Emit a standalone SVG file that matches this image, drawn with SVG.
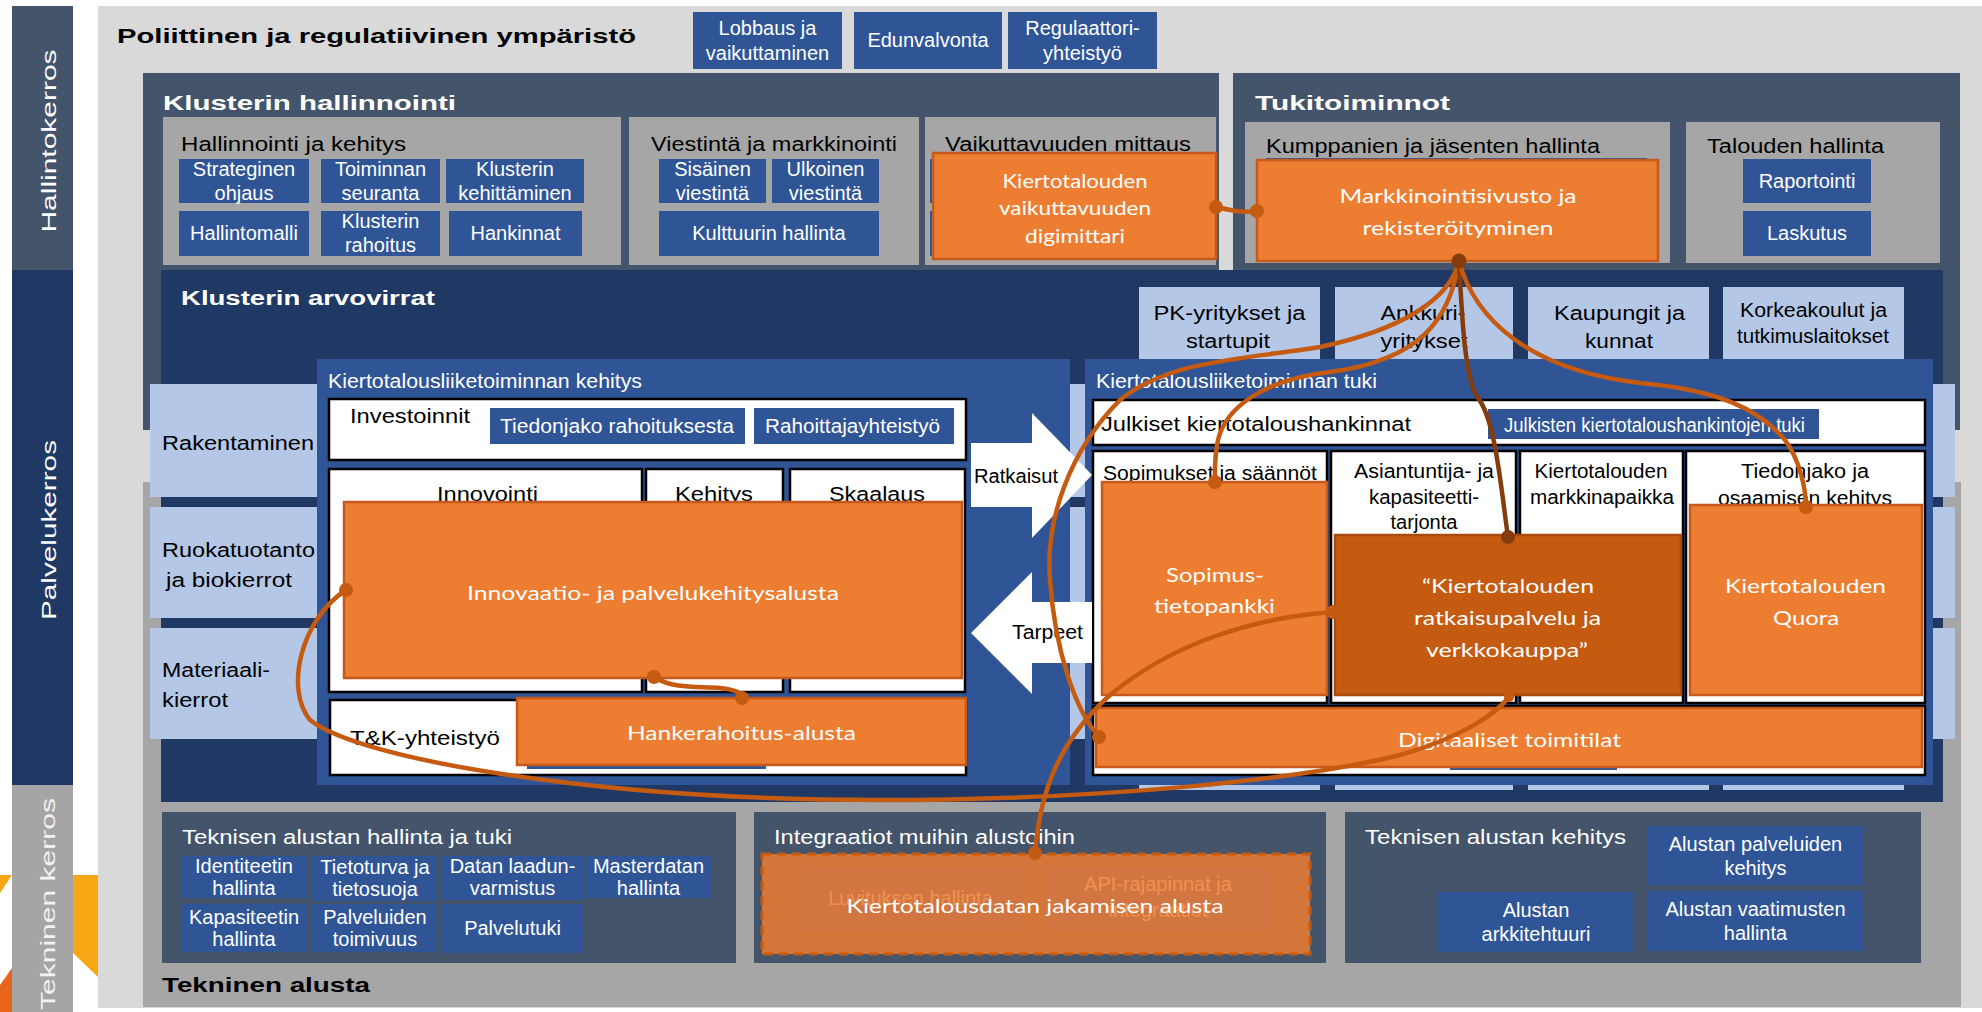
<svg xmlns="http://www.w3.org/2000/svg" width="1982" height="1012" viewBox="0 0 1982 1012">
<style>
text{font-family:"Liberation Sans",Arial,sans-serif;font-size:20px;fill:#000}
.w{fill:#fff}
.m{text-anchor:middle}
.b{font-weight:bold}
.o{font-family:Lato,"Liberation Sans",sans-serif;fill:#fff}
.bb{fill:#2F5597}
.lb{fill:#B4C7E7}
.gp{fill:#A6A6A6}
.sl{fill:#44546A}
.or{fill:#ED7D31;stroke:#C65A1E;stroke-width:2.5}
.od{fill:#C55A11;stroke:#A84B0C;stroke-width:2.5}
.wb{fill:#fff;stroke:#000;stroke-width:2.5}
.cn{fill:none;stroke:#C55A11;stroke-width:4.5;stroke-linecap:round}
.cd{fill:none;stroke:#843C0C;stroke-width:4.5;stroke-linecap:round}
.dt{fill:#C55A11}
.dd{fill:#843C0C}
</style>
<rect x="0" y="0" width="1982" height="1012" fill="#fff"/>

<g id="sidebars">
<polygon points="73,875 98,875 98,977 73,953" fill="#F5A714"/>
<polygon points="0,875 12,875 0,893" fill="#F5A714"/>
<polygon points="0,985 12,968 12,1012 0,1012" fill="#E8661C"/>
<rect x="12" y="6" width="61" height="264" fill="#44546A"/>
<rect x="12" y="270" width="61" height="515" fill="#203864"/>
<rect x="12" y="785" width="61" height="227" fill="#A5A5A5"/>
<text class="w m" font-size="25" transform="translate(56,141) rotate(-90)" textLength="183" lengthAdjust="spacingAndGlyphs">Hallintokerros</text>
<text class="w m" font-size="25" transform="translate(56,530) rotate(-90)" textLength="180" lengthAdjust="spacingAndGlyphs">Palvelukerros</text>
<text class="m" font-size="25" style="fill:#F2F2F2" transform="translate(55,904) rotate(-90)" textLength="212" lengthAdjust="spacingAndGlyphs">Tekninen kerros</text>
</g>

<g id="background">
<rect x="98" y="6" width="1884" height="1002" fill="#D9D9D9"/>
<rect x="143" y="482" width="1818" height="525" class="gp"/>
<rect x="143" y="73" width="1076" height="357" class="sl"/>
<rect x="1233" y="73" width="727" height="357" class="sl"/>
<rect x="161" y="270" width="1782" height="532" fill="#203864"/>
</g>

<g id="poliittinen">
<text class="b" x="117" y="43" font-size="29" textLength="519" lengthAdjust="spacingAndGlyphs">Poliittinen ja regulatiivinen ympäristö</text>
<g id="lobbaus"><rect x="693" y="12" width="149" height="57" class="bb"/><text class="w m" x="767.5" y="35">Lobbaus ja</text><text class="w m" x="767.5" y="60">vaikuttaminen</text></g>
<g id="edunvalvonta"><rect x="854" y="12" width="148" height="57" class="bb"/><text class="w m" x="928" y="47">Edunvalvonta</text></g>
<g id="regulaattori"><rect x="1008" y="12" width="149" height="57" class="bb"/><text class="w m" x="1082.5" y="35">Regulaattori-</text><text class="w m" x="1082.5" y="60">yhteistyö</text></g>
</g>

<g id="klusterin-hallinnointi">
<text class="w b" x="163" y="110" font-size="31" textLength="293" lengthAdjust="spacingAndGlyphs">Klusterin hallinnointi</text>
<g id="hallinnointi-ja-kehitys">
<rect x="163" y="117" width="458" height="148" class="gp"/>
<text x="181" y="151" font-size="23" textLength="225" lengthAdjust="spacingAndGlyphs">Hallinnointi ja kehitys</text>
<rect x="179" y="159" width="130" height="44" class="bb"/><text class="w m" x="244" y="176">Strateginen</text><text class="w m" x="244" y="200">ohjaus</text>
<rect x="321" y="159" width="119" height="44" class="bb"/><text class="w m" x="380.5" y="176">Toiminnan</text><text class="w m" x="380.5" y="200">seuranta</text>
<rect x="446" y="159" width="138" height="44" class="bb"/><text class="w m" x="515" y="176">Klusterin</text><text class="w m" x="515" y="200">kehittäminen</text>
<rect x="179" y="211" width="130" height="45" class="bb"/><text class="w m" x="244" y="240">Hallintomalli</text>
<rect x="321" y="211" width="119" height="45" class="bb"/><text class="w m" x="380.5" y="228">Klusterin</text><text class="w m" x="380.5" y="252">rahoitus</text>
<rect x="449" y="211" width="133" height="45" class="bb"/><text class="w m" x="515.5" y="240">Hankinnat</text>
</g>
<g id="viestinta">
<rect x="629" y="117" width="290" height="148" class="gp"/>
<text x="651" y="151" font-size="23" textLength="246" lengthAdjust="spacingAndGlyphs">Viestintä ja markkinointi</text>
<rect x="659" y="159" width="107" height="44" class="bb"/><text class="w m" x="712.5" y="176">Sisäinen</text><text class="w m" x="712.5" y="200">viestintä</text>
<rect x="772" y="159" width="107" height="44" class="bb"/><text class="w m" x="825.5" y="176">Ulkoinen</text><text class="w m" x="825.5" y="200">viestintä</text>
<rect x="659" y="211" width="220" height="45" class="bb"/><text class="w m" x="769" y="240">Kulttuurin  hallinta</text>
</g>
<g id="vaikuttavuuden-mittaus">
<rect x="925" y="117" width="291" height="148" class="gp"/>
<text x="945" y="151" font-size="23" textLength="246" lengthAdjust="spacingAndGlyphs">Vaikuttavuuden mittaus</text>
<rect x="930" y="159" width="130" height="44" class="bb"/>
<rect x="930" y="211" width="130" height="45" class="bb"/>
</g>
</g>

<g id="tukitoiminnot">
<text class="w b" x="1255" y="110" font-size="31" textLength="195" lengthAdjust="spacingAndGlyphs">Tukitoiminnot</text>
<g id="kumppanien-hallinta">
<rect x="1245" y="122" width="425" height="141" class="gp"/>
<text x="1266" y="153" font-size="23" textLength="334" lengthAdjust="spacingAndGlyphs">Kumppanien ja jäsenten hallinta</text>
<rect x="1266" y="158" width="203" height="44" class="bb"/>
<rect x="1474" y="158" width="173" height="44" class="bb"/>
</g>
<g id="talouden-hallinta">
<rect x="1686" y="122" width="254" height="141" class="gp"/>
<text x="1707" y="153" font-size="23" textLength="177" lengthAdjust="spacingAndGlyphs">Talouden hallinta</text>
<rect x="1743" y="159" width="128" height="44" class="bb"/><text class="w m" x="1807" y="188">Raportointi</text>
<rect x="1743" y="211" width="128" height="45" class="bb"/><text class="w m" x="1807" y="240">Laskutus</text>
</g>
</g>

<g id="klusterin-arvovirrat">
<text class="w b" x="181" y="305" font-size="27" textLength="254" lengthAdjust="spacingAndGlyphs">Klusterin  arvovirrat</text>
<g id="toimijat">
<rect x="1139" y="287" width="181" height="503" class="lb"/>
<rect x="1335" y="287" width="178" height="503" class="lb"/>
<rect x="1528" y="287" width="181" height="503" class="lb"/>
<rect x="1723" y="287" width="181" height="503" class="lb"/>
<text class="m" x="1229.5" y="320" font-size="24" textLength="152" lengthAdjust="spacingAndGlyphs">PK-yritykset ja</text>
<text class="m" x="1228" y="348" font-size="24" textLength="84" lengthAdjust="spacingAndGlyphs">startupit</text>
<text class="m" x="1423" y="320" font-size="24" textLength="85" lengthAdjust="spacingAndGlyphs">Ankkuri-</text>
<text class="m" x="1424" y="348" font-size="24" textLength="87" lengthAdjust="spacingAndGlyphs">yritykset</text>
<text class="m" x="1619.5" y="320" font-size="24" textLength="131" lengthAdjust="spacingAndGlyphs">Kaupungit ja</text>
<text class="m" x="1619" y="348" font-size="24" textLength="68" lengthAdjust="spacingAndGlyphs">kunnat</text>
<text class="m" x="1813.5" y="317" font-size="22" textLength="147" lengthAdjust="spacingAndGlyphs">Korkeakoulut  ja</text>
<text class="m" x="1813" y="343" font-size="22" textLength="152" lengthAdjust="spacingAndGlyphs">tutkimuslaitokset</text>
</g>
<g id="toimialat">
<rect x="150" y="384" width="1805" height="113" class="lb"/>
<rect x="150" y="507" width="1805" height="111" class="lb"/>
<rect x="150" y="628" width="1805" height="111" class="lb"/>
<text x="162" y="450" font-size="24" textLength="152" lengthAdjust="spacingAndGlyphs">Rakentaminen</text>
<text x="162" y="557" font-size="24" textLength="153" lengthAdjust="spacingAndGlyphs">Ruokatuotanto</text>
<text x="166" y="587" font-size="24" textLength="126" lengthAdjust="spacingAndGlyphs">ja biokierrot</text>
<text x="162" y="677" font-size="24" textLength="108" lengthAdjust="spacingAndGlyphs">Materiaali-</text>
<text x="162" y="707" font-size="24" textLength="66" lengthAdjust="spacingAndGlyphs">kierrot</text>
</g>
</g>

<g id="liiketoiminnan-kehitys">
<rect x="317" y="359" width="753" height="426" class="bb"/>
<text class="w" x="328" y="388" font-size="21" textLength="314" lengthAdjust="spacingAndGlyphs">Kiertotalousliiketoiminnan  kehitys</text>
<g id="investoinnit">
<rect x="329" y="399" width="637" height="61" class="wb"/>
<text x="350" y="423" font-size="24" textLength="120" lengthAdjust="spacingAndGlyphs">Investoinnit</text>
<rect x="490" y="408" width="255" height="36" class="bb"/><text class="w" x="500" y="433" font-size="21" textLength="234" lengthAdjust="spacingAndGlyphs">Tiedonjako  rahoituksesta</text>
<rect x="754" y="408" width="200" height="36" class="bb"/><text class="w" x="765" y="433" font-size="21" textLength="175" lengthAdjust="spacingAndGlyphs">Rahoittajayhteistyö</text>
</g>
<g id="innovointi"><rect x="329" y="469" width="313" height="223" class="wb"/><text x="437" y="501" font-size="24" textLength="101" lengthAdjust="spacingAndGlyphs">Innovointi</text></g>
<g id="kehitys"><rect x="646" y="469" width="137" height="223" class="wb"/><text x="675" y="501" font-size="24" textLength="78" lengthAdjust="spacingAndGlyphs">Kehitys</text></g>
<g id="skaalaus"><rect x="790" y="469" width="175" height="223" class="wb"/><text x="829" y="501" font-size="24" textLength="96" lengthAdjust="spacingAndGlyphs">Skaalaus</text></g>
<g id="tk-yhteistyo"><rect x="330" y="700" width="636" height="75" class="wb"/><text x="350" y="745" font-size="22" textLength="150" lengthAdjust="spacingAndGlyphs">T&amp;K-yhteistyö</text>
<rect x="527" y="740" width="239" height="29" class="bb"/></g>
<g id="innovaatioalusta"><rect x="344" y="502" width="618" height="176" class="or"/><text class="o m" x="653" y="600" font-size="27" textLength="372" lengthAdjust="spacingAndGlyphs">Innovaatio- ja palvelukehitysalusta</text></g>
<g id="hankerahoitus"><rect x="517" y="698" width="449" height="67" class="or"/><text class="o m" x="741.5" y="740" font-size="26" textLength="229" lengthAdjust="spacingAndGlyphs">Hankerahoitus-alusta</text></g>
</g>

<g id="liiketoiminnan-tuki">
<rect x="1085" y="359" width="848" height="426" class="bb"/>
<text class="w" x="1096" y="388" font-size="21" textLength="281" lengthAdjust="spacingAndGlyphs">Kiertotalousliiketoiminnan  tuki</text>
<g id="julkiset-hankinnat">
<rect x="1093" y="400" width="832" height="45" class="wb"/>
<text x="1101" y="431" font-size="24" textLength="310" lengthAdjust="spacingAndGlyphs">Julkiset kiertotaloushankinnat</text>
<rect x="1488" y="409" width="331" height="30" class="bb"/>
<text class="w" x="1504" y="432" font-size="20" textLength="301" lengthAdjust="spacingAndGlyphs">Julkisten kiertotaloushankintojen tuki</text>
</g>
<g id="sopimukset"><rect x="1093" y="451" width="234" height="252" class="wb"/><text x="1103" y="480" font-size="22" textLength="214" lengthAdjust="spacingAndGlyphs">Sopimukset  ja  säännöt</text></g>
<g id="asiantuntija"><rect x="1331" y="451" width="185" height="252" class="wb"/>
<text class="m" x="1424" y="478" font-size="22" textLength="140" lengthAdjust="spacingAndGlyphs">Asiantuntija-  ja</text>
<text class="m" x="1424" y="504" font-size="22" textLength="110" lengthAdjust="spacingAndGlyphs">kapasiteetti-</text>
<text class="m" x="1424" y="529" font-size="22" textLength="67" lengthAdjust="spacingAndGlyphs">tarjonta</text></g>
<g id="markkinapaikka"><rect x="1520" y="451" width="163" height="252" class="wb"/>
<text class="m" x="1601" y="478" font-size="22" textLength="133" lengthAdjust="spacingAndGlyphs">Kiertotalouden</text>
<text class="m" x="1602" y="504" font-size="22" textLength="144" lengthAdjust="spacingAndGlyphs">markkinapaikka</text></g>
<g id="tiedonjako"><rect x="1686" y="451" width="239" height="252" class="wb"/>
<text class="m" x="1805" y="478" font-size="22" textLength="128" lengthAdjust="spacingAndGlyphs">Tiedonjako  ja</text>
<text class="m" x="1805" y="505" font-size="22" textLength="174" lengthAdjust="spacingAndGlyphs">osaamisen  kehitys</text></g>
<g id="digitaaliset"><rect x="1093" y="706" width="832" height="69" class="wb"/>
<rect x="1450" y="740" width="167" height="30" class="bb"/>
<rect x="1096" y="708" width="826" height="59" class="or"/>
<text class="o m" x="1509.5" y="747" font-size="26" textLength="223" lengthAdjust="spacingAndGlyphs">Digitaaliset toimitilat</text></g>
<g id="sopimustietopankki"><rect x="1102" y="482" width="225" height="213" class="or"/>
<text class="o m" x="1215" y="582" font-size="25" textLength="98" lengthAdjust="spacingAndGlyphs">Sopimus-</text>
<text class="o m" x="1214.5" y="613" font-size="25" textLength="121" lengthAdjust="spacingAndGlyphs">tietopankki</text></g>
<g id="ratkaisupalvelu"><rect x="1335" y="535" width="346" height="160" class="od"/>
<text class="o m" x="1508" y="593" font-size="25" textLength="172" lengthAdjust="spacingAndGlyphs">“Kiertotalouden</text>
<text class="o m" x="1507.5" y="625" font-size="25" textLength="187" lengthAdjust="spacingAndGlyphs">ratkaisupalvelu ja</text>
<text class="o m" x="1507" y="657" font-size="25" textLength="162" lengthAdjust="spacingAndGlyphs">verkkokauppa”</text></g>
<g id="quora"><rect x="1690" y="505" width="232" height="190" class="or"/>
<text class="o m" x="1805.5" y="593" font-size="25" textLength="161" lengthAdjust="spacingAndGlyphs">Kiertotalouden</text>
<text class="o m" x="1806" y="625" font-size="25" textLength="66" lengthAdjust="spacingAndGlyphs">Quora</text></g>
</g>

<g id="ratkaisut-arrow">
<polygon points="971,443 1032,443 1032,413 1092,475 1032,538 1032,507 971,507" fill="#fff"/>
<text x="974" y="483" font-size="21" textLength="84" lengthAdjust="spacingAndGlyphs">Ratkaisut</text>
</g>
<g id="tarpeet-arrow">
<polygon points="971,633 1032,572 1032,602 1092,602 1092,663 1032,663 1032,694" fill="#fff"/>
<text x="1012" y="639" font-size="21" textLength="71" lengthAdjust="spacingAndGlyphs">Tarpeet</text>
</g>

<g id="digimittari"><rect x="933" y="153" width="283" height="106" class="or"/>
<text class="o m" x="1075" y="188" font-size="23" textLength="145" lengthAdjust="spacingAndGlyphs">Kiertotalouden</text>
<text class="o m" x="1075" y="215" font-size="23" textLength="152" lengthAdjust="spacingAndGlyphs">vaikuttavuuden</text>
<text class="o m" x="1075" y="243" font-size="23" textLength="100" lengthAdjust="spacingAndGlyphs">digimittari</text></g>
<g id="markkinointisivusto"><rect x="1257" y="160" width="401" height="101" class="or"/>
<text class="o m" x="1458" y="203" font-size="25" textLength="237" lengthAdjust="spacingAndGlyphs">Markkinointisivusto ja</text>
<text class="o m" x="1458" y="235" font-size="25" textLength="191" lengthAdjust="spacingAndGlyphs">rekisteröityminen</text></g>

<g id="tekninen-alusta">
<text class="b" x="162" y="992" font-size="27" textLength="208" lengthAdjust="spacingAndGlyphs">Tekninen alusta</text>
<g id="hallinta-ja-tuki">
<rect x="162" y="812" width="574" height="151" class="sl"/>
<text class="w" x="182" y="844" font-size="23" textLength="330" lengthAdjust="spacingAndGlyphs">Teknisen alustan  hallinta ja tuki</text>
<rect x="181" y="856" width="126" height="42" class="bb"/><text class="w m" x="244" y="872.5" font-size="18">Identiteetin</text><text class="w m" x="244" y="894.5" font-size="18">hallinta</text>
<rect x="312" y="856" width="126" height="45" class="bb"/><text class="w m" x="375" y="874" font-size="18">Tietoturva ja</text><text class="w m" x="375" y="896" font-size="18">tietosuoja</text>
<rect x="442" y="856" width="141" height="44" class="bb"/><text class="w m" x="512.5" y="873" font-size="18">Datan laadun-</text><text class="w m" x="512.5" y="895" font-size="18">varmistus</text>
<rect x="586" y="856" width="125" height="42" class="bb"/><text class="w m" x="648.5" y="872.5" font-size="18">Masterdatan</text><text class="w m" x="648.5" y="894.5" font-size="18">hallinta</text>
<rect x="181" y="904" width="126" height="48" class="bb"/><text class="w m" x="244" y="923.5" font-size="18">Kapasiteetin</text><text class="w m" x="244" y="945.5" font-size="18">hallinta</text>
<rect x="312" y="904" width="126" height="48" class="bb"/><text class="w m" x="375" y="923.5" font-size="18">Palveluiden</text><text class="w m" x="375" y="945.5" font-size="18">toimivuus</text>
<rect x="442" y="904" width="141" height="49" class="bb"/><text class="w m" x="512.5" y="935" font-size="18">Palvelutuki</text>
</g>
<g id="integraatiot">
<rect x="754" y="812" width="572" height="151" class="sl"/>
<text class="w" x="774" y="844" font-size="23" textLength="301" lengthAdjust="spacingAndGlyphs">Integraatiot muihin alustoihin</text>
<rect x="797" y="866" width="227" height="67" class="bb"/><text class="w m" x="910.5" y="905" font-size="20">Luvituksen  hallinta</text>
<rect x="1045" y="866" width="227" height="67" class="bb"/><text class="w m" x="1158" y="891" font-size="20">API-rajapinnat ja</text><text class="w m" x="1158" y="917" font-size="20">integraatiot</text>
</g>
<g id="datan-jakamisen-alusta">
<rect x="762" y="854" width="548" height="100" fill="#ED7D31" fill-opacity="0.85" stroke="#C55A11" stroke-width="3" stroke-dasharray="9 6"/>
<text class="o m" x="1035" y="913" font-size="26" textLength="377" lengthAdjust="spacingAndGlyphs">Kiertotalousdatan jakamisen alusta</text>
</g>
<g id="alustan-kehitys">
<rect x="1345" y="812" width="576" height="151" class="sl"/>
<text class="w" x="1365" y="844" font-size="23" textLength="261" lengthAdjust="spacingAndGlyphs">Teknisen alustan  kehitys</text>
<rect x="1647" y="826" width="217" height="59" class="bb"/><text class="w m" x="1755.5" y="850.5">Alustan  palveluiden</text><text class="w m" x="1755.5" y="874.5">kehitys</text>
<rect x="1438" y="892" width="196" height="60" class="bb"/><text class="w m" x="1536" y="917">Alustan</text><text class="w m" x="1536" y="941">arkkitehtuuri</text>
<rect x="1647" y="891" width="217" height="60" class="bb"/><text class="w m" x="1755.5" y="916">Alustan  vaatimusten</text><text class="w m" x="1755.5" y="940">hallinta</text>
</g>
</g>

<g id="connectors">
<path class="cn" d="M1216,207 C1230,210 1240,213 1257,211"/>
<path class="cn" d="M1459,261 C1450,300 1400,330 1320,347 C1240,360 1170,360 1120,400 C1070,450 1045,520 1050,580 C1055,650 1075,710 1099,737"/>
<path class="cn" d="M1459,261 C1450,320 1420,360 1330,372 C1260,380 1225,410 1218,440 C1214,460 1215,470 1215,482"/>
<path class="cd" d="M1459,261 C1462,320 1465,380 1478,398 C1495,420 1500,480 1508,537"/>
<path class="cn" d="M1459,261 C1475,320 1530,370 1640,383 C1720,390 1760,410 1785,440 C1800,460 1806,490 1806,507"/>
<path class="cn" d="M1035,853 C1040,790 1060,740 1110,695 C1170,645 1250,618 1333,612"/>
<path class="cn" d="M346,590 C300,620 285,690 310,720 C360,760 600,800 880,800 C1100,800 1300,780 1400,755 C1460,738 1495,715 1509,697"/>
<path class="cn" d="M654,677 C675,690 700,686 720,688 C735,690 742,692 742,698"/>
<circle class="dt" cx="1216" cy="207" r="7"/>
<circle class="dt" cx="1257" cy="211" r="7"/>
<circle class="dd" cx="1459" cy="261" r="7.5"/>
<circle class="dt" cx="1099" cy="737" r="7"/>
<circle class="dt" cx="1215" cy="482" r="7"/>
<circle class="dd" cx="1508" cy="537" r="7"/>
<circle class="dt" cx="1806" cy="507" r="7"/>
<circle class="dt" cx="1035" cy="853" r="7"/>
<circle class="dt" cx="1333" cy="612" r="7"/>
<circle class="dt" cx="346" cy="590" r="7"/>
<circle class="dt" cx="1509" cy="697" r="5"/>
<circle class="dt" cx="654" cy="677" r="7"/>
<circle class="dt" cx="742" cy="698" r="7"/>
</g>
</svg>
